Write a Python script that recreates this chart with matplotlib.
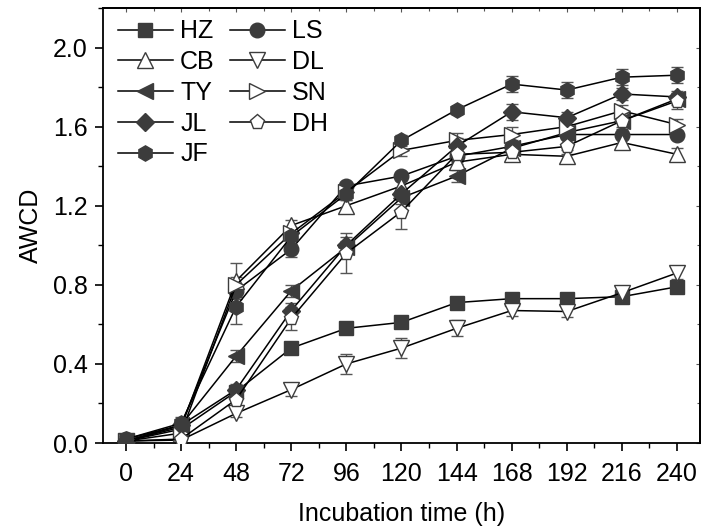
import matplotlib
matplotlib.use("Agg")
import matplotlib.pyplot as plt
from matplotlib.ticker import MultipleLocator

plt.rcParams['font.family'] = ['Liberation Sans', 'DejaVu Sans']
plt.rcParams['font.size'] = 18

hours = [0, 24, 48, 72, 96, 120, 144, 168, 192, 216, 240]

HZ = [0.01, 0.07, 0.26, 0.48, 0.58, 0.61, 0.71, 0.73, 0.73, 0.74, 0.79]
LS = [0.02, 0.09, 0.77, 0.98, 1.30, 1.35, 1.45, 1.50, 1.56, 1.56, 1.56]
CB = [0.01, 0.08, 0.82, 1.10, 1.20, 1.30, 1.42, 1.46, 1.45, 1.52, 1.46]
DL = [0.01, 0.015, 0.15, 0.27, 0.40, 0.48, 0.58, 0.67, 0.665, 0.76, 0.86]
TY = [0.01, 0.09, 0.44, 0.77, 0.99, 1.24, 1.35, 1.49, 1.57, 1.63, 1.74]
SN = [0.01, 0.05, 0.80, 1.06, 1.27, 1.48, 1.53, 1.56, 1.60, 1.68, 1.61]
JL = [0.01, 0.09, 0.27, 0.67, 1.00, 1.26, 1.50, 1.675, 1.645, 1.765, 1.75]
DH = [0.01, 0.02, 0.22, 0.63, 0.96, 1.17, 1.46, 1.47, 1.50, 1.63, 1.73]
JF = [0.02, 0.10, 0.69, 1.045, 1.26, 1.53, 1.685, 1.815, 1.785, 1.85, 1.86]

HZ_err = [0.01, 0.01, 0.02, 0.03, 0.02, 0.02, 0.02, 0.02, 0.02, 0.02, 0.02]
LS_err = [0.01, 0.02, 0.03, 0.04, 0.02, 0.02, 0.03, 0.03, 0.02, 0.02, 0.02]
CB_err = [0.01, 0.02, 0.09, 0.03, 0.03, 0.03, 0.03, 0.03, 0.03, 0.03, 0.03]
DL_err = [0.01, 0.01, 0.02, 0.03, 0.05, 0.05, 0.04, 0.03, 0.03, 0.03, 0.03]
TY_err = [0.01, 0.02, 0.03, 0.03, 0.03, 0.03, 0.03, 0.03, 0.03, 0.03, 0.03]
SN_err = [0.01, 0.02, 0.04, 0.03, 0.03, 0.03, 0.04, 0.04, 0.03, 0.03, 0.03]
JL_err = [0.01, 0.02, 0.03, 0.04, 0.04, 0.03, 0.04, 0.04, 0.03, 0.03, 0.03]
DH_err = [0.01, 0.02, 0.04, 0.06, 0.10, 0.09, 0.05, 0.04, 0.04, 0.04, 0.04]
JF_err = [0.01, 0.03, 0.09, 0.04, 0.03, 0.03, 0.02, 0.04, 0.04, 0.04, 0.04]

names = ["HZ", "LS", "CB", "DL", "TY", "SN", "JL", "DH", "JF"]
values = [HZ, LS, CB, DL, TY, SN, JL, DH, JF]
errors = [HZ_err, LS_err, CB_err, DL_err, TY_err, SN_err, JL_err, DH_err, JF_err]

dark = '#3c3c3c'
styles = {
    "HZ": dict(marker='s', ms=9.5, filled=True),
    "LS": dict(marker='o', ms=10.5, filled=True),
    "CB": dict(marker='^', ms=11, filled=False),
    "DL": dict(marker='v', ms=11, filled=False),
    "TY": dict(marker='<', ms=11, filled=True),
    "SN": dict(marker='>', ms=11, filled=False),
    "JL": dict(marker='D', ms=9, filled=True),
    "DH": dict(marker='p', ms=11, filled=False),
    "JF": dict(marker='h', ms=11, filled=True),
}

fig = plt.figure(figsize=(7.04, 5.31), dpi=100)
ax = fig.add_axes([0.1463, 0.1657, 0.8480, 0.8193])

handles = {}
for name, v, e in zip(names, values, errors):
    st = styles[name]
    fc = dark if st['filled'] else 'white'
    ax.errorbar(hours, v, yerr=e, fmt='none', ecolor='#555555', elinewidth=1.0,
                capsize=4, capthick=1.0, zorder=2)
    h, = ax.plot(hours, v, color='black', lw=1.1, marker=st['marker'], ms=st['ms'],
                 mfc=fc, mec=dark, mew=1.0, zorder=3, label=name)
    handles[name] = h

order = ["HZ", "CB", "TY", "JL", "JF", "LS", "DL", "SN", "DH"]
ax.legend([handles[n] for n in order], order, ncol=2, loc='upper left',
          frameon=False, numpoints=1, handlelength=2.2, handletextpad=0.3,
          labelspacing=0.27, columnspacing=0.6, borderaxespad=0.0,
          borderpad=0.3, bbox_to_anchor=(0.012, 0.991), fontsize=18)

ax.set_xlim(-10, 250)
ax.set_ylim(0, 2.2)
ax.set_xticks(hours)
ax.xaxis.set_minor_locator(MultipleLocator(12))
ax.set_yticks([0.0, 0.4, 0.8, 1.2, 1.6, 2.0])
ax.set_yticklabels(['0.0', '0.4', '0.8', '1.2', '1.6', '2.0'])
ax.yaxis.set_minor_locator(MultipleLocator(0.2))
ax.tick_params(which='major', direction='out', length=6, width=1.2, pad=5, labelsize=18)
ax.tick_params(axis='x', which='major', pad=7.5)
ax.tick_params(which='minor', direction='out', length=3.5, width=1.0)

for s in ax.spines.values():
    s.set_linewidth(1.3)

top = ax.secondary_xaxis('top')
top.set_xticks(hours)
top.xaxis.set_minor_locator(MultipleLocator(12))
top.tick_params(which='major', direction='in', length=3, width=0.8, labeltop=False, colors='#555555')
top.tick_params(which='minor', direction='in', length=2, width=0.8, colors='#555555')
top.spines['top'].set_linewidth(1.3)

right = ax.secondary_yaxis('right')
right.set_yticks([0.0, 0.4, 0.8, 1.2, 1.6, 2.0])
right.yaxis.set_minor_locator(MultipleLocator(0.2))
right.tick_params(which='major', direction='in', length=3, width=0.8, labelright=False, colors='#555555')
right.tick_params(which='minor', direction='in', length=2, width=0.8, colors='#555555')
right.spines['right'].set_linewidth(1.3)

ax.set_xlabel('Incubation time (h)', fontsize=18, labelpad=12)
ax.set_ylabel('AWCD', fontsize=18, labelpad=7)

fig.savefig('out.png', dpi=100)
